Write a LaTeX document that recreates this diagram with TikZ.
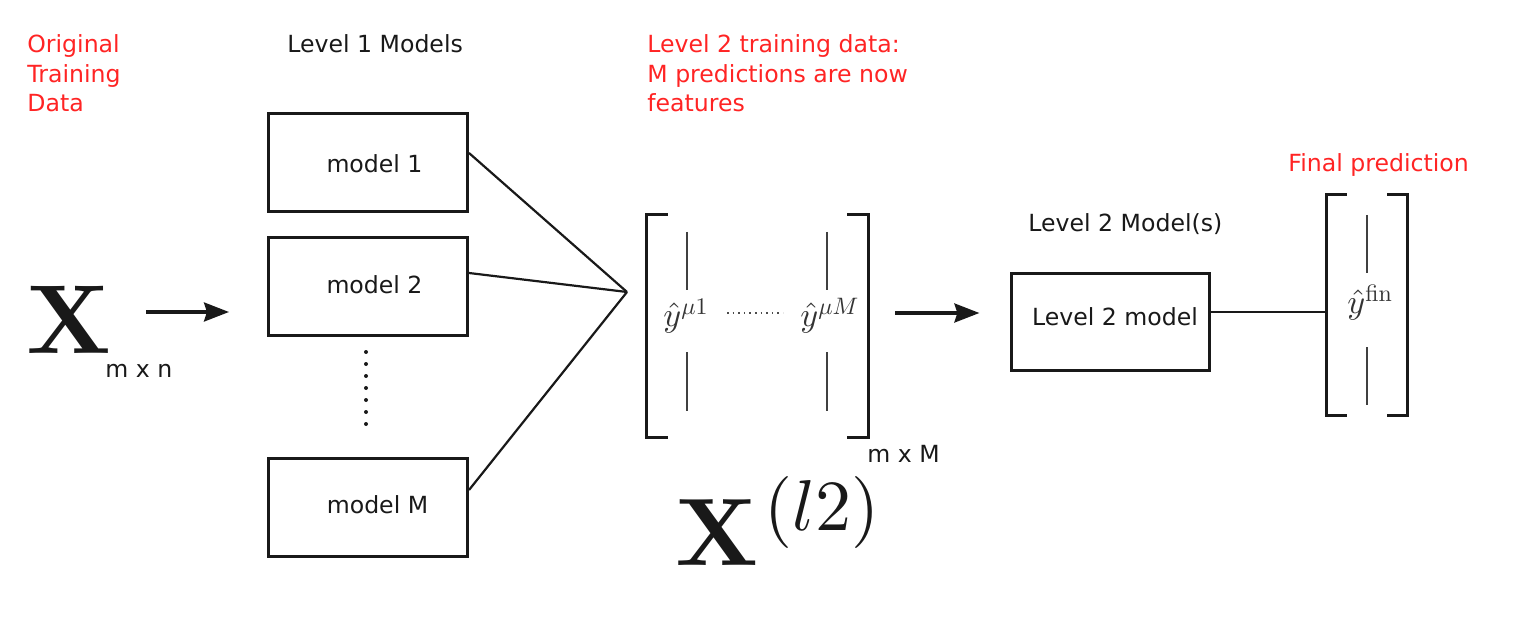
\documentclass[tikz,border=0pt]{standalone}
\usepackage[no-math]{fontspec}
\setmainfont{DejaVu Sans}
\DeclareFontShape{OT1}{cmr}{m}{n}{<->cmr10}{}
\DeclareFontShape{OT1}{cmr}{bx}{n}{<->cmbx10}{}
\DeclareFontShape{OML}{cmm}{m}{it}{<->cmmi10}{}
\DeclareFontShape{OMS}{cmsy}{m}{n}{<->cmsy10}{}
\DeclareMathSizes{48}{48}{36}{26}
\usetikzlibrary{arrows.meta}
\definecolor{lblred}{RGB}{255,36,36}
\definecolor{ink}{RGB}{25,25,25}
\begin{document}
\begin{tikzpicture}[x=0.5pt,y=-0.5pt,
  txt/.style={inner sep=0pt, font=\fontsize{11.8}{14.75}\selectfont, text=ink},
  redtxt/.style={txt, text=lblred, align=left},
  mathtxt/.style={inner sep=0pt, text=ink},
  modelbox/.style={draw=ink, line width=1.5pt, inner sep=0pt, minimum width=99.5pt, minimum height=49pt},
  conn/.style={draw=ink, line width=1.1pt},
  arr/.style={draw=ink, line width=1.6pt, -{Stealth[length=12.5pt,width=9.5pt,inset=1.5pt]}},
  brk/.style={draw=ink, line width=1.7pt},
  colline/.style={draw=black!75, line width=0.7pt},
  dotline/.style={draw=ink, line width=2pt, line cap=round, dash pattern=on 0pt off 6pt},
  frame/.style={inner sep=0pt}]
\useasboundingbox (0,0) rectangle (1528,626);

% headings
\node[redtxt, anchor=base west] (orig) at (27,112) {Original\\Training\\Data};
\node[txt, anchor=base west] (l1t) at (287,53) {Level 1 Models};
\node[redtxt, anchor=base west] (l2data) at (647,112) {Level 2 training data:\\M predictions are now\\features};
\node[redtxt, anchor=base west] (finlbl) at (1288,172) {Final prediction};
\node[txt, anchor=base west] (l2t) at (1028,232) {Level 2 Model(s)};

% input matrix
\node[mathtxt, anchor=base west] (X) at (26,353) {\fontsize{49}{49}\selectfont$\mathbf{X}$};
\node[txt, anchor=base west] (xdim) at (105,377) {m x n};

% level 1 models
\node[modelbox] (m1) at (368,162.5) {};
\node[modelbox] (m2) at (368,286.5) {};
\node[modelbox] (mM) at (368,507.5) {};
\node[txt, anchor=base] (m1t) at (374.5,173) {model 1};
\node[txt, anchor=base] (m2t) at (374.5,293) {model 2};
\node[txt, anchor=base] (mMt) at (377.5,513) {model M};
\draw[dotline] (366,352) -- (366,424);

\coordinate (a1e) at ([xshift=-19pt,yshift=-12.75pt]m2.west);
\draw[arr] ([xshift=-41.5pt]a1e) -- (a1e);

\coordinate (join) at (627,292);
\draw[conn] ([yshift=4.75pt]m1.east) -- (join);
\draw[conn] ([yshift=6.75pt]m2.east) -- (join);
\draw[conn] ([yshift=8.75pt]mM.east) -- (join);

% level 2 training matrix
\node[frame, minimum width=110.5pt, minimum height=111pt] (mat) at (757.5,326) {};
\draw[brk] ([xshift=10.5pt]mat.north west) -- (mat.north west) -- (mat.south west) -- ([xshift=10.5pt]mat.south west);
\draw[brk] ([xshift=-10.5pt]mat.north east) -- (mat.north east) -- (mat.south east) -- ([xshift=-10.5pt]mat.south east);
\draw[colline] (687,232) -- (687,290) (687,352) -- (687,411)
               (827,232) -- (827,290) (827,352) -- (827,411);
\node[mathtxt, text=black!80, anchor=base west] (y1) at (663,327) {\fontsize{17}{17}\selectfont$\hat{y}^{\mu 1}$};
\node[mathtxt, text=black!80, anchor=base west] (yM) at (800,327) {\fontsize{17}{17}\selectfont$\hat{y}^{\mu M}$};
\draw[draw=black!70, line width=0.8pt, dotted] (727,313) -- (783,313);
\node[txt, anchor=base west] (matdim) at (867,462) {m x M};
\node[mathtxt, anchor=base west] (X2) at (675,565) {\fontsize{48}{48}\selectfont$\mathbf{X}^{\mkern1.5mu(l2)}$};

\draw[arr] ([xshift=13.5pt,yshift=6.5pt]mat.east) -- ++(42pt,0);

% level 2 model
\node[modelbox, minimum width=99pt, minimum height=48.5pt] (L2) at (1110.5,322) {};
\node[txt, anchor=base] (L2t) at (1115,325) {Level 2 model};

% final prediction
\node[frame, minimum width=40pt, minimum height=110pt] (fin) at (1367,305) {};
\draw[brk] ([xshift=10pt]fin.north west) -- (fin.north west) -- (fin.south west) -- ([xshift=10pt]fin.south west);
\draw[brk] ([xshift=-10pt]fin.north east) -- (fin.north east) -- (fin.south east) -- ([xshift=-10pt]fin.south east);
\draw[colline] (1367,215) -- (1367,273) (1367,347) -- (1367,405);
\node[mathtxt, text=black!80, anchor=base west] (yfin) at (1347,314) {\fontsize{17}{17}\selectfont$\hat{y}^{\mathrm{fin}}$};

\draw[conn] ([xshift=-0.75pt,yshift=5pt]L2.east) coordinate (l2s) -- (l2s -| fin.west);
\end{tikzpicture}
\end{document}
